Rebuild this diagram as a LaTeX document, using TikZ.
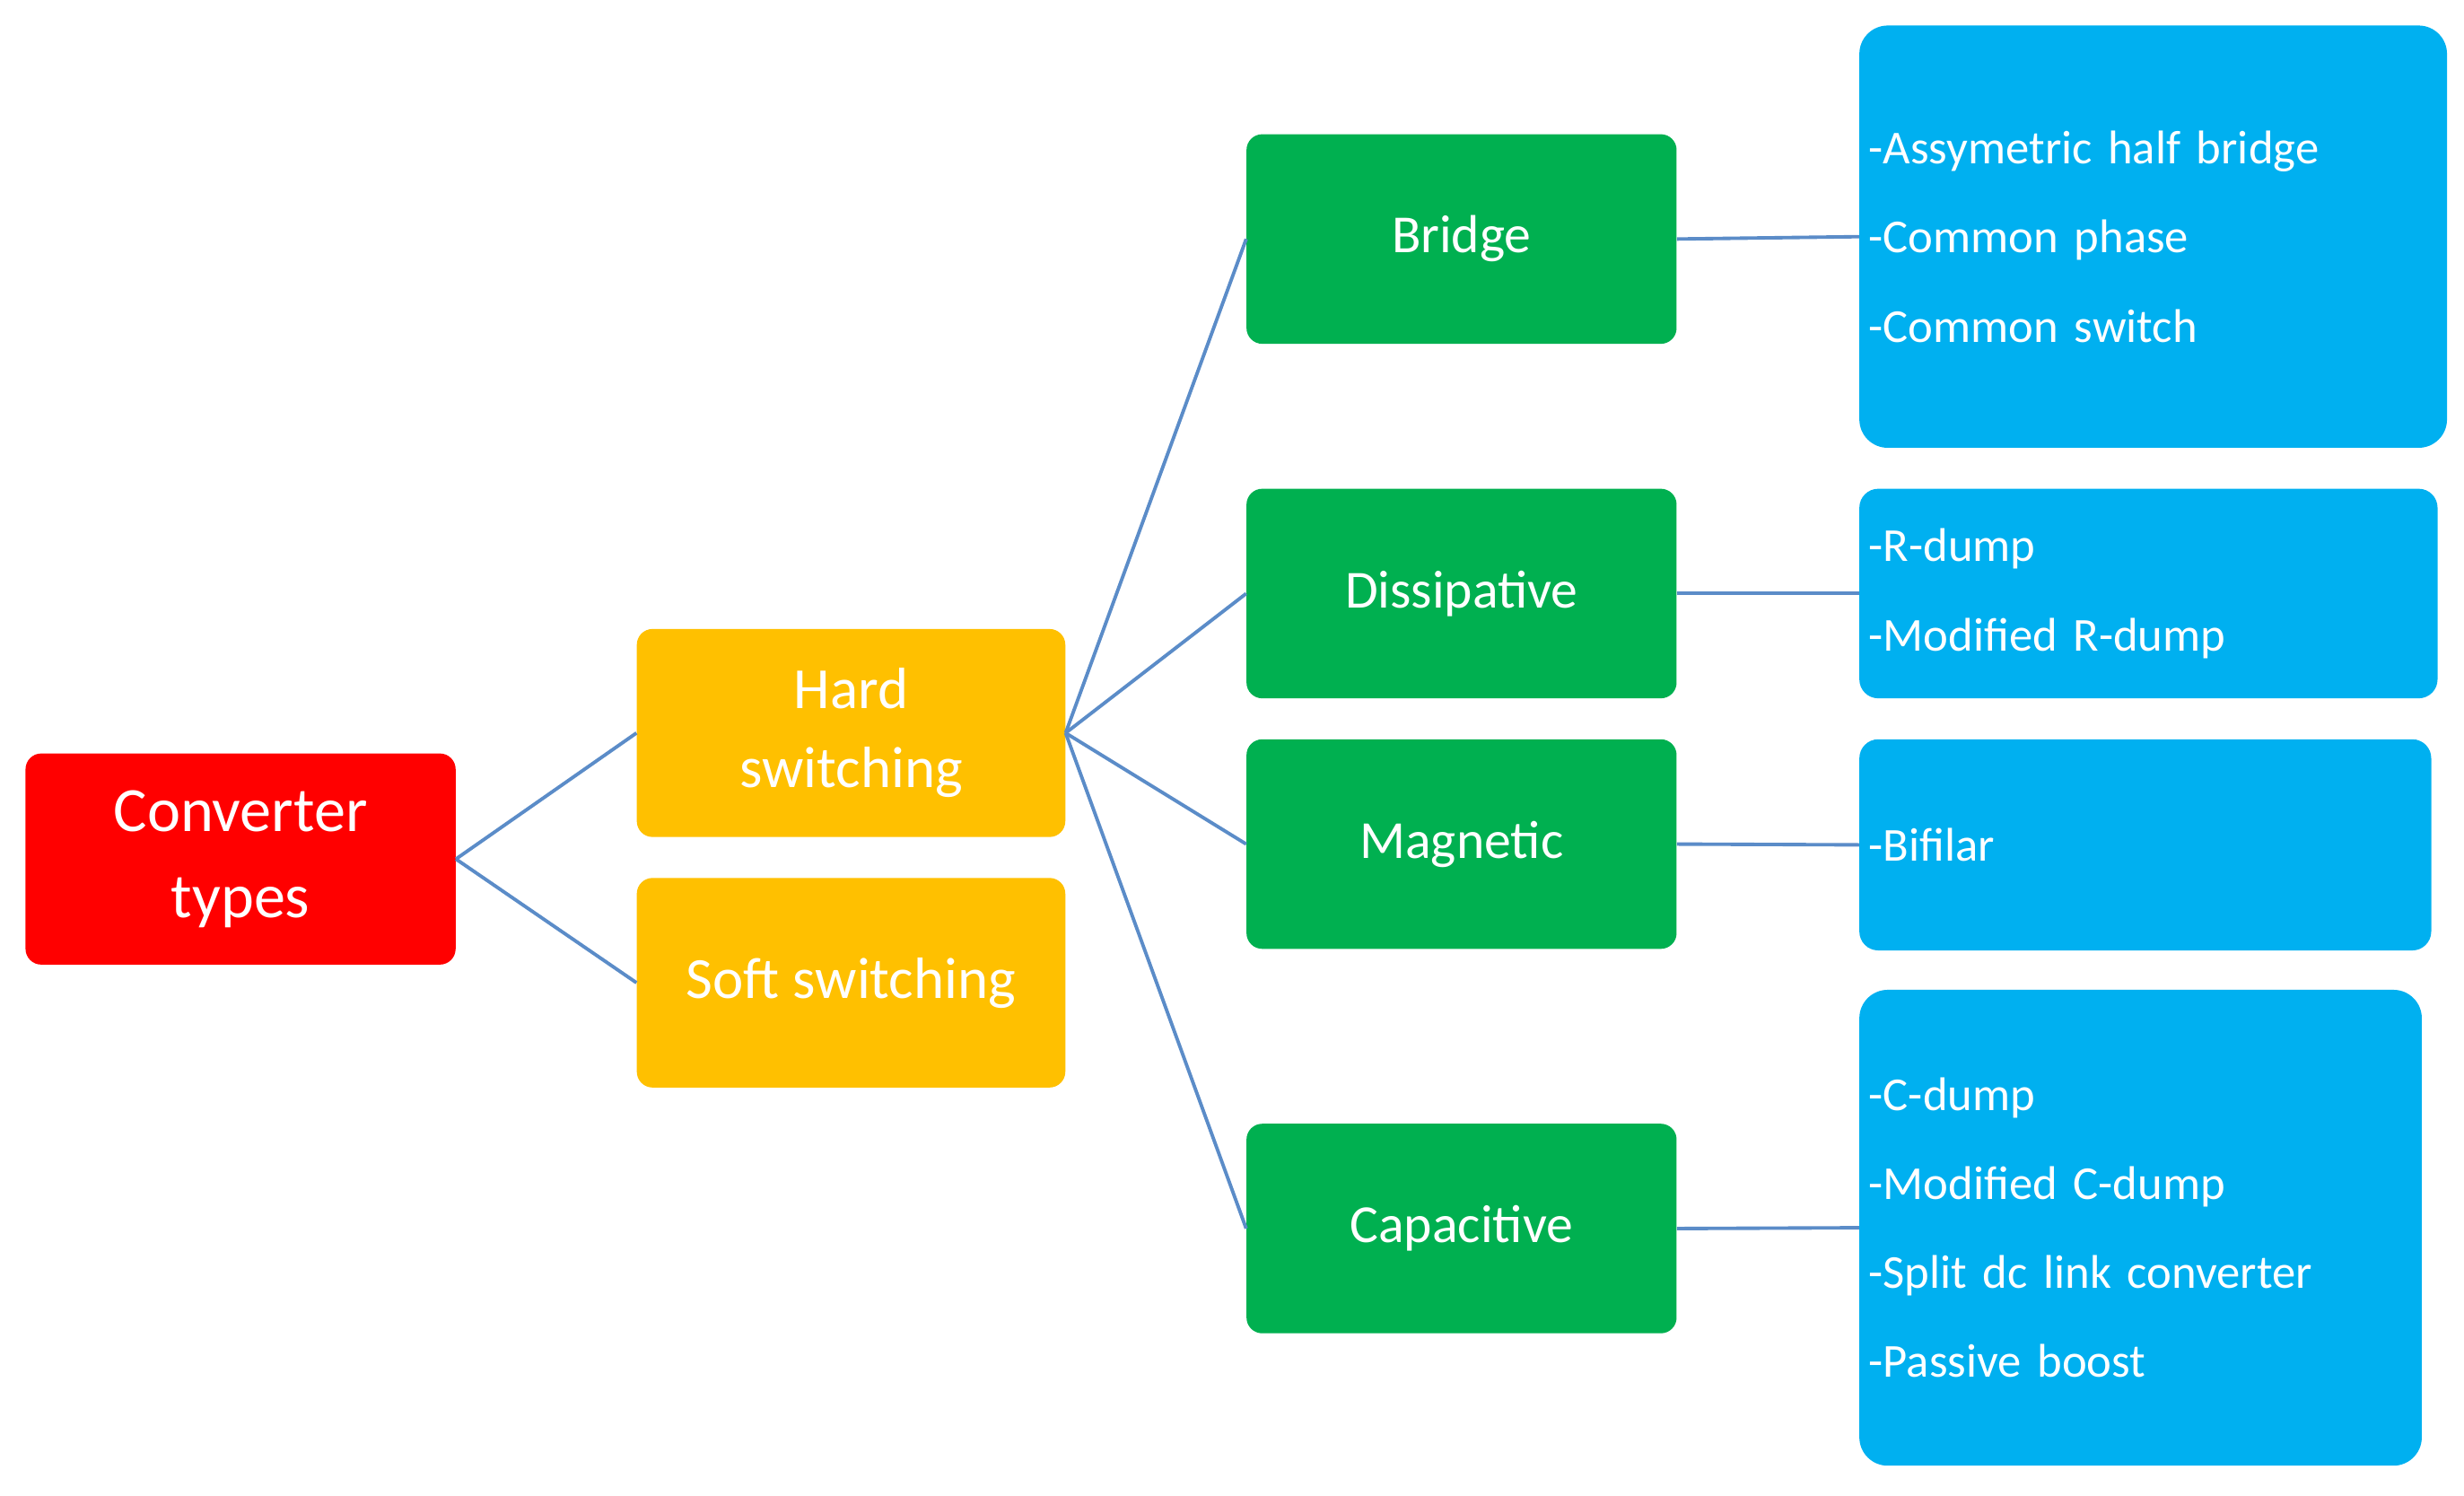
\documentclass[tikz,border=0pt]{standalone}
\usepackage{fontspec}
\setmainfont{Carlito}
\definecolor{cred}{HTML}{FF0000}
\definecolor{cyel}{HTML}{FFC000}
\definecolor{cgrn}{HTML}{00B050}
\definecolor{cblu}{HTML}{00B0F0}
\definecolor{cln}{HTML}{5B8CC8}
\begin{document}
\begin{tikzpicture}[x=1pt,y=-1pt,
 box/.style={rounded corners=10pt,text=white,inner sep=2pt,align=center,anchor=north west},
 red/.style={box,fill=cred,font=\fontsize{40}{55}\selectfont},
 yel/.style={box,fill=cyel,font=\fontsize{37}{50}\selectfont},
 grn/.style={box,fill=cgrn,font=\fontsize{34}{40}\selectfont,minimum width=273pt,minimum height=133pt},
 blu/.style={box,fill=cblu,rounded corners=18pt,align=left,inner xsep=6pt,font=\fontsize{30}{56.5}\selectfont},
 ln/.style={draw=cln,line width=2.2pt}]
\useasboundingbox (0,0) rectangle (1564,949);
\node[red,minimum width=273pt,minimum height=134pt] (ct) at (16,478) {Converter\\types};
\node[yel,minimum width=272pt,minimum height=132pt] (hs) at (404,399) {Hard\\switching};
\node[yel,minimum width=272pt,minimum height=133pt] (ss) at (404,557) {Soft switching};
\node[grn] (br) at (791,85) {Bridge};
\node[grn] (di) at (791,310) {Dissipative};
\node[grn] (ma) at (791,469) {Magnetic};
\node[grn] (ca) at (791,713) {Capacitive};
\node[blu,text width=361pt,minimum height=268pt] (b1) at (1180,16) {-Assymetric half bridge\\-Common phase\\-Common switch};
\node[blu,rounded corners=12pt,text width=355pt,minimum height=133pt] (b2) at (1180,310) {-R-dump\\-Modified R-dump};
\node[blu,rounded corners=12pt,text width=351pt,minimum height=134pt] (b3) at (1180,469) {-Bifilar};
\node[blu,text width=345pt,minimum height=302pt] (b4) at (1180,628) {-C-dump\\-Modified C-dump\\-Split dc link converter\\-Passive boost};
\draw[ln] (ct.east) -- (hs.west);
\draw[ln] (ct.east) -- (ss.west);
\foreach \g in {br,di,ma,ca} \draw[ln] (hs.east) -- (\g.west);
\draw[ln] (br.east) -- (b1.west);
\draw[ln] (di.east) -- (b2.west);
\draw[ln] (ma.east) -- (b3.west);
\draw[ln] (ca.east) -- (b4.west);
\end{tikzpicture}
\end{document}
